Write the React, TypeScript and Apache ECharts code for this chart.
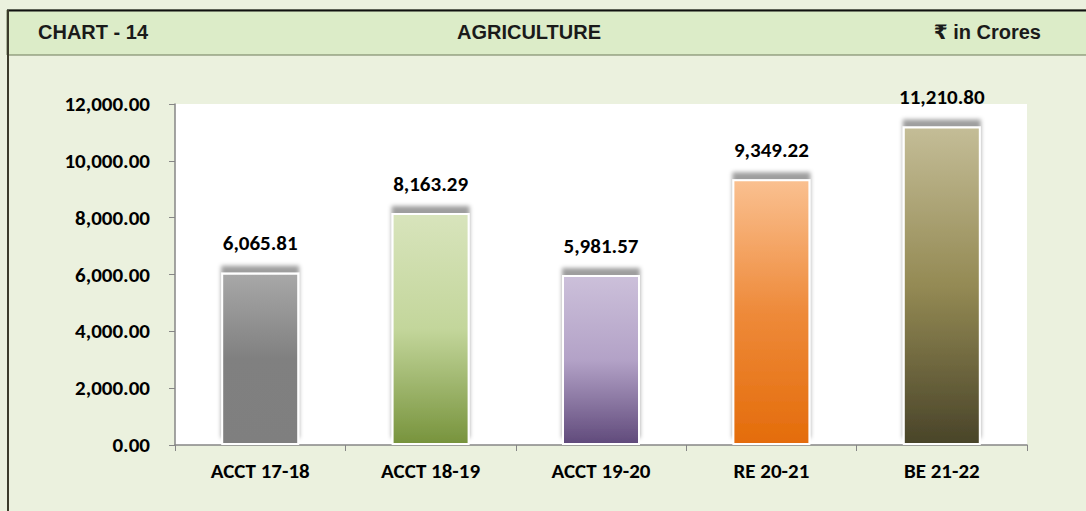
import React, { useEffect, useRef } from "react";
import * as echarts from "echarts";

const categories = ["ACCT 17-18", "ACCT 18-19", "ACCT 19-20", "RE 20-21", "BE 21-22"];
const values = [6065.81, 8163.29, 5981.57, 9349.22, 11210.8];
const yTicks = { min: 0, max: 12000, interval: 2000 };
const barColors: [string, string, string][] = [
  ["#a8a8a8", "#808080", "#7f7f7f"],
  ["#d8e4bc", "#c3d69b", "#77933c"],
  ["#ccc0da", "#b3a2c7", "#604a7b"],
  ["#fac090", "#ee8a3a", "#e46c0a"],
  ["#c4bd97", "#948a54", "#494429"],
];

const FONT = "Carlito, Lato, 'Open Sans', sans-serif";
const HFONT = "bold 20px 'Liberation Sans', Arial, 'DejaVu Sans', sans-serif";

export default function App() {
  const ref = useRef<HTMLDivElement>(null);
  useEffect(() => {
    const chart = echarts.init(ref.current!, null, { renderer: "svg" });
    const fmt = (v: number) =>
      v.toLocaleString("en-US", { minimumFractionDigits: 2, maximumFractionDigits: 2 });
    chart.setOption({
      animation: false,
      backgroundColor: "#ebf1de",
      graphic: [
        { type: "rect", shape: { x: 7, y: 10, width: 1090, height: 45 }, style: { fill: "#dcecc8", stroke: "#6f7a5a", lineWidth: 1 }, z: 0 },
        { type: "line", shape: { x1: 7, y1: 10.5, x2: 1086, y2: 10.5 }, style: { stroke: "#111", lineWidth: 2 } },
        { type: "line", shape: { x1: 8, y1: 10, x2: 8, y2: 511 }, style: { stroke: "#3b3b2a", lineWidth: 2 } },
        { type: "text", x: 38, y: 32, style: { text: "CHART - 14", font: HFONT, fill: "#1a1a1a", textVerticalAlign: "middle" } },
        { type: "text", x: 529, y: 32, style: { text: "AGRICULTURE", font: HFONT, fill: "#1a1a1a", textAlign: "center", textVerticalAlign: "middle" } },
        { type: "text", x: 1041, y: 32, style: { text: "₹ in Crores", font: HFONT, fill: "#1a1a1a", textAlign: "right", textVerticalAlign: "middle" } },
      ],
      grid: { left: 175, right: 59, top: 104, bottom: 66, show: true, backgroundColor: "#ffffff", borderWidth: 0 },
      xAxis: {
        type: "category",
        data: categories,
        axisLine: { lineStyle: { color: "#868686", width: 1.5 } },
        axisTick: { show: true, length: 6, lineStyle: { color: "#868686" } },
        axisLabel: { color: "#000", fontWeight: "bold", fontSize: 21, fontFamily: FONT, margin: 15 },
      },
      yAxis: {
        type: "value",
        min: yTicks.min,
        max: yTicks.max,
        interval: yTicks.interval,
        axisLine: { show: true, lineStyle: { color: "#868686", width: 1.5 } },
        axisTick: { show: true, length: 6, lineStyle: { color: "#868686" } },
        splitLine: { show: false },
        axisLabel: { color: "#000", fontWeight: "bold", fontSize: 21, fontFamily: FONT, margin: 25, formatter: (v: number) => fmt(v) },
      },
      series: [
        {
          type: "bar",
          barWidth: 78,
          data: values.map((v, i) => ({
            value: v,
            itemStyle: {
              color: new echarts.graphic.LinearGradient(0, 0, 0, 1, [
                { offset: 0, color: barColors[i][0] },
                { offset: 0.5, color: barColors[i][1] },
                { offset: 1, color: barColors[i][2] },
              ]),
              borderColor: "#ffffff",
              borderWidth: 2,
              shadowColor: "rgba(0,0,0,0.38)",
              shadowBlur: 4,
              shadowOffsetY: -7,
            },
          })),
          label: {
            show: true,
            position: "top",
            distance: 19,
            color: "#000",
            fontWeight: "bold",
            fontSize: 21,
            fontFamily: FONT,
            formatter: (p: any) => fmt(p.value),
          },
        },
      ],
    });
    return () => chart.dispose();
  }, []);
  return (
    <div
      ref={ref}
      style={{ position: "fixed", left: 0, top: 0, width: 1086, height: 511 }}
    />
  );
}
